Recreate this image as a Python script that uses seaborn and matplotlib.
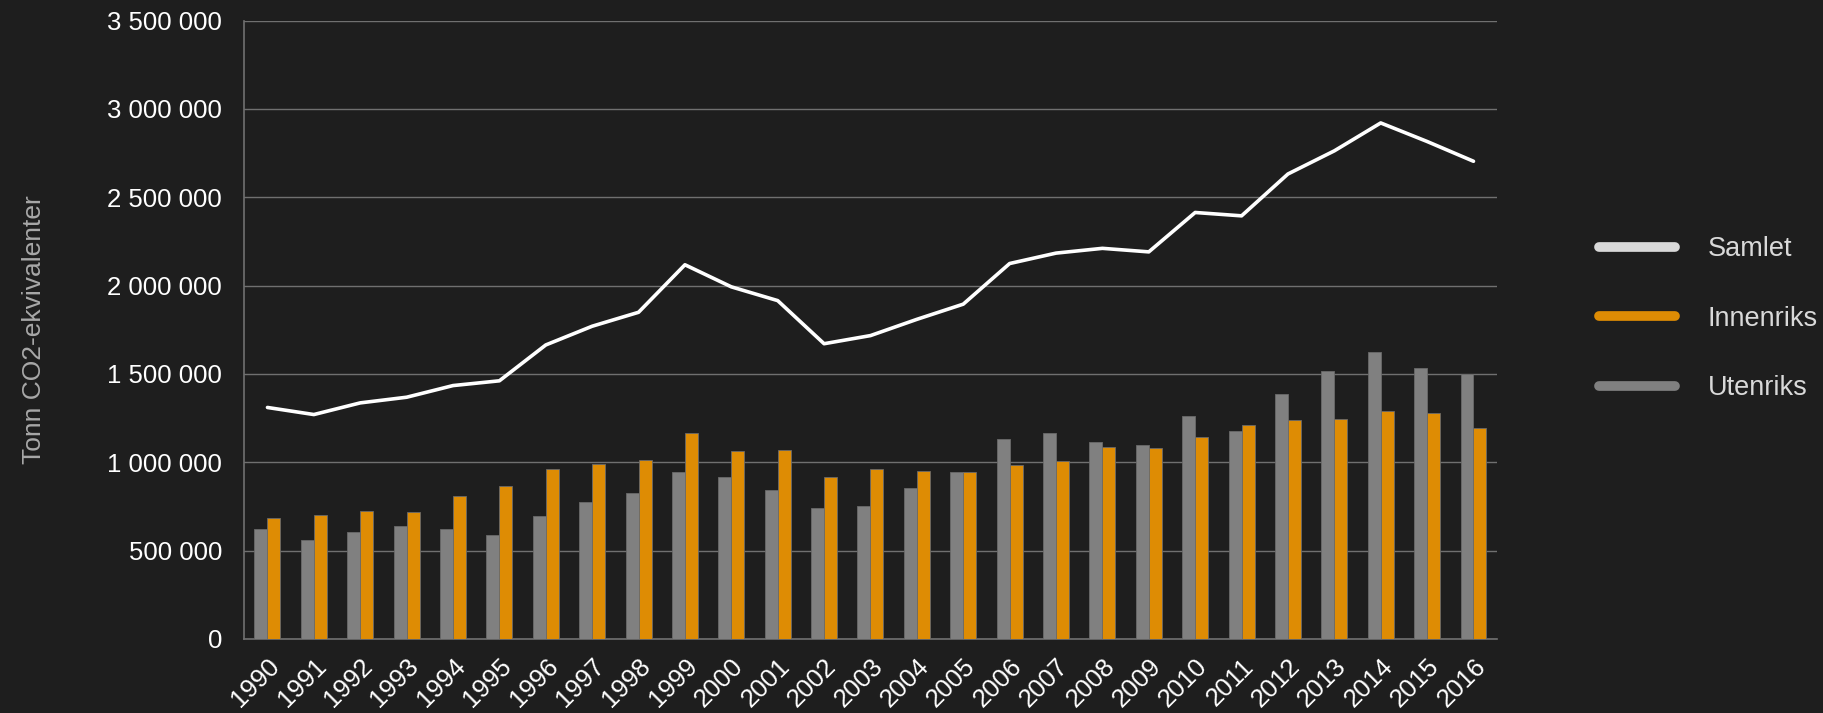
import numpy as np
import pandas as pd
import matplotlib
matplotlib.use("Agg")
import matplotlib.pyplot as plt
import seaborn as sns
from matplotlib.lines import Line2D
from matplotlib.ticker import FuncFormatter, MultipleLocator

# data (tonn CO2-ekvivalenter)
years = [str(y) for y in range(1990, 2017)]
utenriks = [622000, 562000, 605000, 639000, 620000, 588000, 696000, 777000, 826000, 946000,
            918000, 841000, 743000, 752000, 852000, 945000, 1133000, 1167000, 1116000, 1097000,
            1264000, 1178000, 1389000, 1516000, 1625000, 1533000, 1500000]
innenriks = [684000, 701000, 724000, 720000, 807000, 867000, 962000, 988000, 1012000, 1165000,
             1065000, 1071000, 918000, 962000, 952000, 945000, 986000, 1007000, 1088000, 1082000,
             1143000, 1212000, 1239000, 1244000, 1290000, 1276000, 1193000]
samlet = [1310000, 1270000, 1336000, 1368000, 1434000, 1461000, 1664000, 1770000, 1849000, 2118000,
          1993000, 1915000, 1671000, 1717000, 1809000, 1895000, 2125000, 2184000, 2211000, 2191000,
          2414000, 2395000, 2632000, 2763000, 2921000, 2816000, 2704000]

bg = "#1e1e1e"
grey = "#808080"
orange = "#de8c04"
grid_col = "#707070"

df = pd.DataFrame({
    "year": years * 2,
    "value": utenriks + innenriks,
    "serie": ["Utenriks"] * len(years) + ["Innenriks"] * len(years),
})

sns.set_style("dark")
plt.rcParams["font.family"] = ["Liberation Sans", "DejaVu Sans"]

fig = plt.figure(figsize=(18.23, 7.13), dpi=100, facecolor=bg)
ax = fig.add_axes([0.134, 0.104, 0.687, 0.867])
ax.set_facecolor(bg)

sns.barplot(data=df, x="year", y="value", hue="serie", hue_order=["Utenriks", "Innenriks"],
            palette={"Utenriks": grey, "Innenriks": orange}, width=0.56, saturation=1,
            edgecolor=["#6a6a6a"] * len(years) + ["#a86a05"] * len(years), linewidth=0.6,
            ax=ax, legend=False, zorder=3)
sns.lineplot(x=np.arange(len(years)), y=samlet, color="white", linewidth=2.6, ax=ax, zorder=4)

ax.set_xlim(-0.5, len(years) - 0.5)
ax.set_ylim(0, 3500000)
ax.yaxis.set_major_locator(MultipleLocator(500000))
ax.yaxis.set_major_formatter(FuncFormatter(lambda v, p: f"{int(v):,}".replace(",", " ")))
ax.grid(axis="y", color=grid_col, linewidth=1.0, zorder=0)
ax.grid(axis="x", visible=False)
ax.set_axisbelow(True)

# ticks between categories, labels at centres
ax.set_xticks(np.arange(len(years)))
ax.set_xticklabels(years, rotation=45, ha="right", va="top", rotation_mode="anchor")
ax.set_xticks(np.arange(len(years) + 1) - 0.5, minor=True)
ax.tick_params(axis="x", which="major", length=0, pad=11, labelsize=18.5, colors="white")
ax.tick_params(axis="x", which="minor", length=7, width=1, color=grid_col)
ax.tick_params(axis="y", length=0, pad=16, labelsize=18.5, colors="white")
for lab in ax.get_xticklabels():
    lab.set_color("white")

for side in ["top", "right"]:
    ax.spines[side].set_visible(False)
ax.spines["left"].set_color(grid_col)
ax.spines["bottom"].set_color(grid_col)
ax.spines["left"].set_linewidth(1.2)
ax.spines["bottom"].set_linewidth(1.2)

ax.set_xlabel("")
ax.set_ylabel("Tonn CO2-ekvivalenter", color="#a8a8a8", fontsize=19, labelpad=44)

handles = [
    Line2D([0], [0], color="#d9d9d9", lw=7, solid_capstyle="round"),
    Line2D([0], [0], color=orange, lw=7, solid_capstyle="round"),
    Line2D([0], [0], color=grey, lw=7, solid_capstyle="round"),
]
leg = fig.legend(handles, ["Samlet", "Innenriks", "Utenriks"], loc="center left",
                 bbox_to_anchor=(0.864, 0.553), frameon=False, fontsize=19.5,
                 handlelength=2.8, handletextpad=1.2, labelspacing=1.6)
for t in leg.get_texts():
    t.set_color("#d9d9d9")

fig.savefig("out.png", dpi=100, facecolor=bg)
